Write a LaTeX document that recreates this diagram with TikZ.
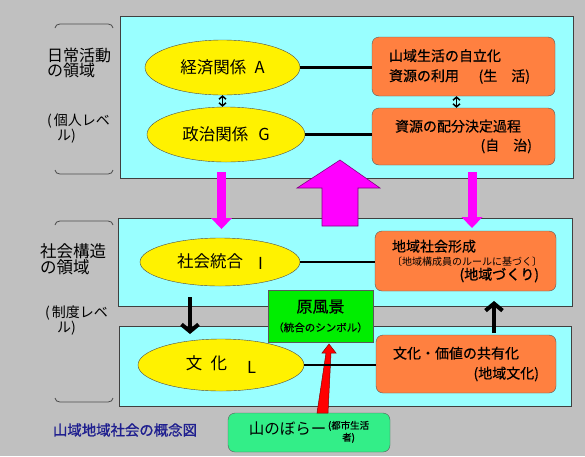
\documentclass[tikz,border=0pt]{standalone}
\usepackage{fontspec}
\setmainfont{Noto Sans CJK JP}
\newfontfamily\semibold[FakeBold=0.5]{Noto Sans CJK JP}
\newfontfamily\heavier[FakeBold=1.2]{Noto Sans CJK JP}
\usetikzlibrary{arrows.meta,shapes.geometric}

\definecolor{bggray}{HTML}{C0C0C0}
\definecolor{areacyan}{HTML}{99FFFF}
\definecolor{boxorange}{HTML}{FF8040}
\definecolor{scenegreen}{HTML}{00EE00}
\definecolor{climbgreen}{HTML}{33EE88}
\definecolor{captionblue}{HTML}{1F1F8F}
\definecolor{arrowpink}{RGB}{255,0,255}

\begin{document}
\begin{tikzpicture}[x=1pt, y=-1pt, >=Stealth,
  area/.style={draw=black!75, fill=areacyan, line width=0.8pt, inner sep=0pt},
  oval/.style={ellipse, draw=black!70, fill=yellow, inner sep=0pt, font=\fontsize{16.5}{18}\selectfont},
  card/.style={draw=black!65, fill=boxorange, rounded corners=7pt, inner sep=0pt, align=left, font=\semibold\fontsize{14}{20}\selectfont},
  link/.style={line width=2.5pt},
  pinkarrow/.style={arrowpink, line width=9pt, -{Triangle[width=21pt,length=11pt,line width=0pt]}},
  blackarrow/.style={line width=4pt, -{Straight Barb[width=17pt,length=7pt]}},
  twoway/.style={line width=1.5pt, {Straight Barb[width=7pt,length=3pt]}-{Straight Barb[width=7pt,length=3pt]}},
  bracket/.style={black!70, line width=0.8pt},
  side/.style={anchor=west, align=left, inner sep=0pt}]

  % background and page size
  \fill[bggray] (0,0) rectangle (585,456);
  \useasboundingbox (0,0) rectangle (585,456);

  % the three areas
  \node[area, minimum width=453pt, minimum height=162pt] (daily) at (346.5,97) {};
  \node[area, minimum width=454pt, minimum height=88pt] (social) at (345,262) {};
  \node[area, minimum width=452pt, minimum height=80pt] (culture) at (345,366) {};

  % brackets and labels on the left
  \draw[bracket] (55,28) to[out=90,in=180] (60,24) -- (108,24) to[out=0,in=90] (113,28);
  \draw[bracket] (55,170) to[out=-90,in=180] (60,174) -- (108,174) to[out=0,in=-90] (113,170);
  \draw[bracket] (55,225) to[out=90,in=180] (60,221) -- (108,221) to[out=0,in=90] (113,225);
  \draw[bracket] (55,398) to[out=-90,in=180] (60,402) -- (108,402) to[out=0,in=-90] (113,398);
  \node[side, font=\fontsize{16}{15.5}\selectfont] (lblDaily) at (47,63) {日常活動\\の領域};
  \node[side, font=\fontsize{14}{15}\selectfont] (lblPersonal) at (47,128.5) {(\kern2pt 個人レベ\\\hspace*{10pt}ル)};
  \node[side, font=\fontsize{16.5}{16}\selectfont] (lblSocial) at (40,259.5) {社会構造\\の領域};
  \node[side, font=\fontsize{14}{15}\selectfont] (lblSystem) at (45,320) {(\kern2pt 制度レベ\\\hspace*{12pt}ル)};

  % magenta arrows between the areas
  \coordinate (pinkL0) at (221.5,172);
  \coordinate (pinkL1) at (221.5,229);
  \coordinate (pinkR0) at (472,172);
  \coordinate (pinkR1) at (472,228);
  \draw[pinkarrow] (pinkL0) -- (pinkL1);
  \draw[pinkarrow] (pinkR0) -- (pinkR1);
  \draw[fill=arrowpink, draw=arrowpink!50!black, line width=0.6pt]
    (322,226) -- (322,188) -- (297,188) -- (340,160) -- (380,188) -- (358,188) -- (358,226) -- cycle;

  % black arrows between social and culture
  \coordinate (dnTop) at (190,297);
  \coordinate (dnEnd) at (190,334);
  \coordinate (upBot) at (494,333);
  \coordinate (upEnd) at (494,301);
  \draw[blackarrow] (dnTop) -- (dnEnd);
  \draw[blackarrow] (upBot) -- (upEnd);

  % ellipses
  \node[oval, minimum width=155pt, minimum height=55pt] (eA) at (222.5,67.5) {経済関係\hspace{0.5em}A};
  \node[oval, minimum width=158pt, minimum height=55pt] (eG) at (226,134.5) {政治関係\hspace{0.6em}G};
  \node[oval, minimum width=160pt, minimum height=48pt] (eI) at (220,262) {社会統合\hspace{0.9em}\raisebox{-2pt}{I}};
  \node[oval, minimum width=166pt, minimum height=52pt] (eL) at (221,365) {文\hspace{0.5em}化\hspace{1.2em}\raisebox{-4pt}{L}};

  % orange boxes
  \node[card, minimum width=183pt, minimum height=59pt, text width=149pt] (life) at (463.5,66.5)
    {山域生活の自立化\\資源の利用\hspace{1.4em}(生\quad 活)};
  \node[card, minimum width=183pt, minimum height=57pt, text width=137pt, font=\semibold\fontsize{14}{19}\selectfont] (self) at (463.5,136.5)
    {資源の配分決定過程\\\hfill(自\quad 治)};
  \node[card, minimum width=181pt, minimum height=60pt, text width=147pt, font=\semibold\fontsize{14}{14}\selectfont] (commun) at (465.5,261)
    {地域社会形成\\{\normalfont\fontsize{10}{12}\selectfont 〔地域構成員のルールに基づく〕}\\\hfill{\heavier(地域づくり)}\hspace*{17pt}};
  \node[card, minimum width=180pt, minimum height=58pt, text width=146pt] (cult) at (466,364)
    {文化・価値の共有化\\\hfill(地域文化)\hspace*{16pt}};

  % green boxes
  \node[draw=black!65, fill=scenegreen, minimum width=105pt, minimum height=52pt, inner sep=0pt, align=center,
    font=\semibold\fontsize{16}{19}\selectfont] (scene) at (320.5,316)
    {原風景\\{\fontsize{10.5}{12}\selectfont （統合のシンボル）}};
  \node[draw=black!65, fill=climbgreen, rounded corners=7pt, minimum width=162pt, minimum height=39pt, inner sep=0pt] (climber) at (309,432.5)
    {{\fontsize{15.5}{18}\selectfont 山のぼらー}\,{\semibold\fontsize{9.5}{12}\selectfont\begin{tabular}{@{}c@{}}(都市生活\\者)\end{tabular}}};

  % red arrow from climber to scene
  \draw[fill=red, draw=red!50!black, line width=0.5pt]
    (317,413) -- (326,353) -- (322,353) -- (329,344) -- (336,353) -- (331,353) -- (328,413) -- cycle;

  % links
  \draw[link] (eA.east) -- (eA.east -| life.west);
  \draw[link] (eG.east) -- (eG.east -| self.west);
  \draw[link] (eI.east) -- (eI.east -| commun.west);
  \draw[link] (eL.east) -- (eL.east -| cult.west);
  \draw[twoway] (eA.south) -- (eA.south |- eG.north);
  \draw[twoway] ([xshift=-7pt]life.south) -- ([xshift=-7pt]life.south |- self.north);

  % caption
  \node[font=\heavier\fontsize{14.4}{16}\selectfont, text=captionblue, inner sep=0pt] (caption) at (125,430) {山域地域社会の概念図};
\end{tikzpicture}
\end{document}
